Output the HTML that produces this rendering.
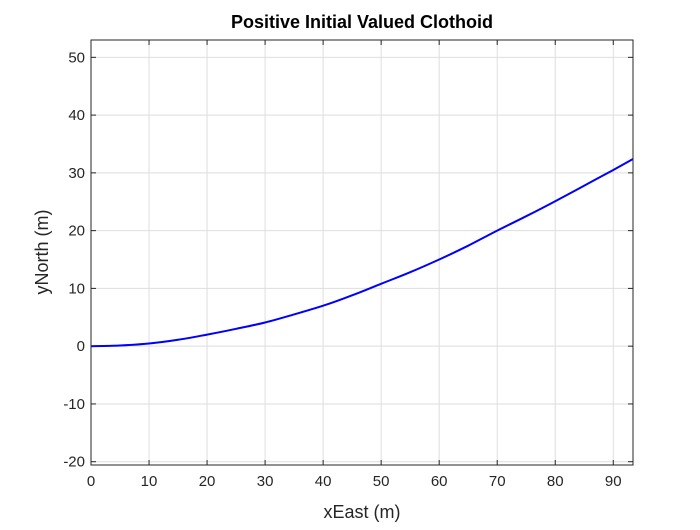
<!DOCTYPE html>
<html><head><meta charset="utf-8"><style>
body{margin:0;background:#fff;}
svg text{font-family:"Liberation Sans",Arial,sans-serif;}
</style></head><body>
<svg width="700" height="525" viewBox="0 0 700 525">
<rect width="700" height="525" fill="#fff"/>
<g id="grid"></g>
<g id="ticks"></g>
<path id="curve" fill="none" stroke="#0000ff" stroke-width="2"/>
<rect x="91" y="40" width="542" height="425" fill="none" stroke="#262626" stroke-width="1"/>
<text x="362" y="28" text-anchor="middle" font-size="18" font-weight="bold" fill="#000">Positive Initial Valued Clothoid</text>
<text x="362" y="518" text-anchor="middle" font-size="18" fill="#262626">xEast (m)</text>
<text transform="translate(48,252) rotate(-90)" text-anchor="middle" font-size="18" fill="#262626">yNorth (m)</text>
</svg>
<script>
const xTicks=[0,10,20,30,40,50,60,70,80,90];
const yTicks=[-20,-10,0,10,20,30,40,50];
const xs=[0,5,10,15,20,25,30,35,40,45,50,55,60,65,70,75,80,85,90,93.4];
const ys=[0,0.12,0.46,1.1,2.0,3.0,4.1,5.5,7.0,8.8,10.8,12.8,15.0,17.4,20.0,22.5,25.1,27.8,30.5,32.4];
const X0=91,X1=633,Y0=465,Y1=40,xmin=0,xmax=93.4,ymin=-20.57,ymax=53.0;
const sx=v=>X0+(v-xmin)/(xmax-xmin)*(X1-X0);
const sy=v=>Y0-(v-ymin)/(ymax-ymin)*(Y0-Y1);
const NS='http://www.w3.org/2000/svg';
const grid=document.getElementById('grid'),ticks=document.getElementById('ticks');
function mk(tag,attrs,parent){const e=document.createElementNS(NS,tag);for(const k in attrs)e.setAttribute(k,attrs[k]);parent.appendChild(e);return e;}
xTicks.forEach(v=>{const x=sx(v);
 const g=mk('line',{x1:x,x2:x,y1:Y1,y2:Y0,stroke:'#dedede','stroke-width':1},grid);
 
 
 mk('line',{x1:x,x2:x,y1:Y0,y2:Y0-5,stroke:'#262626'},ticks);
 mk('line',{x1:x,x2:x,y1:Y1,y2:Y1+5,stroke:'#262626'},ticks);
 const t=mk('text',{x:x,y:Y0+21,'text-anchor':'middle','font-size':15,fill:'#262626'},ticks);
 t.textContent=v;
 
 
});
yTicks.forEach(v=>{const y=sy(v);
 const g=mk('line',{x1:X0,x2:X1,y1:y,y2:y,stroke:'#dedede','stroke-width':1},grid);
 
 
 mk('line',{x1:X0,x2:X0+5,y1:y,y2:y,stroke:'#262626'},ticks);
 mk('line',{x1:X1,x2:X1-5,y1:y,y2:y,stroke:'#262626'},ticks);
 const t=mk('text',{x:X0-6,y:y+5,'text-anchor':'end','font-size':15,fill:'#262626'},ticks);
 t.textContent=v;
 
 
});
const P=xs.map((v,i)=>[sx(v),sy(ys[i])]);
let d='M'+P[0][0].toFixed(1)+','+P[0][1].toFixed(1);
for(let i=0;i<P.length-1;i++){
 const p0=P[Math.max(i-1,0)],p1=P[i],p2=P[i+1],p3=P[Math.min(i+2,P.length-1)];
 const c1=[p1[0]+(p2[0]-p0[0])/6,p1[1]+(p2[1]-p0[1])/6];
 const c2=[p2[0]-(p3[0]-p1[0])/6,p2[1]-(p3[1]-p1[1])/6];
 d+='C'+c1.map(n=>n.toFixed(1)).join(',')+' '+c2.map(n=>n.toFixed(1)).join(',')+' '+p2.map(n=>n.toFixed(1)).join(',');
}
document.getElementById('curve').setAttribute('d',d);
</script>
</body></html>
